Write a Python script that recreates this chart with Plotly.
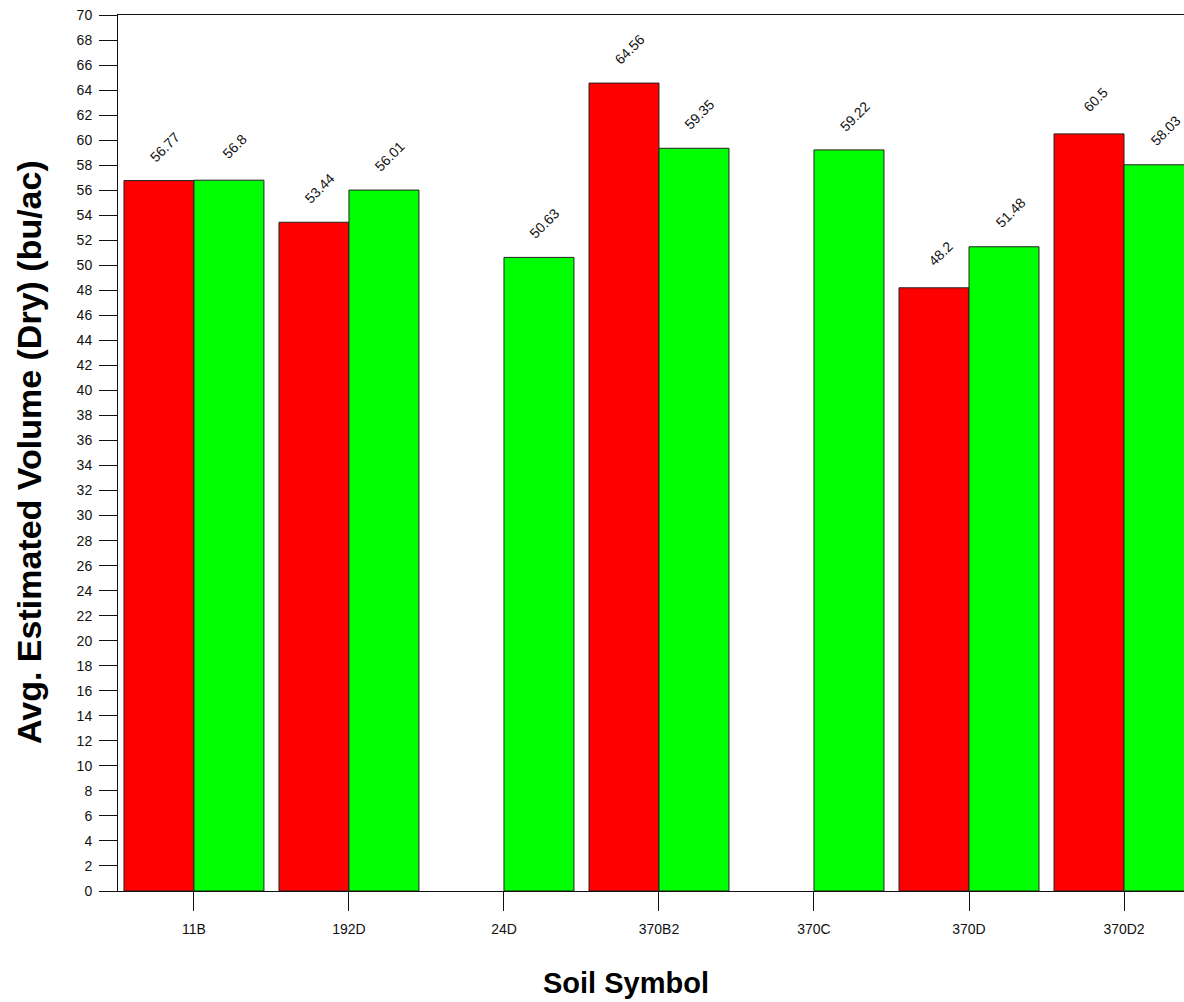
import plotly.graph_objects as go

categories = ["11B", "192D", "24D", "370B2", "370C", "370D", "370D2"]
red_values = [56.77, 53.44, None, 64.56, None, 48.2, 60.5]
green_values = [56.8, 56.01, 50.63, 59.35, 59.22, 51.48, 58.03]
red_labels = ["56.77", "53.44", None, "64.56", None, "48.2", "60.5"]
green_labels = ["56.8", "56.01", "50.63", "59.35", "59.22", "51.48", "58.03"]
y_ticks = list(range(0, 72, 2))

FONT = "Liberation Sans, Arial, sans-serif"

# plot area in page pixels
PL, PR, PT, PB = 118, 1184, 15, 891
W, H = 1184, 1002

fig = go.Figure()
fig.add_trace(go.Bar(x=categories, y=red_values, marker=dict(color="#FF0000", line=dict(color="#222222", width=1)),
                     showlegend=False))
fig.add_trace(go.Bar(x=categories, y=green_values, marker=dict(color="#00FF00", line=dict(color="#222222", width=1)),
                     showlegend=False))

annotations = []
for cat, v, lab in zip(categories, red_values, red_labels):
    if v is None:
        continue
    annotations.append(dict(x=cat, y=v, text=lab, showarrow=False, textangle=-45, xanchor="center", yanchor="middle",
                            xshift=-35 + 6, yshift=34, font=dict(family=FONT, size=14, color="#111111")))
for cat, v, lab in zip(categories, green_values, green_labels):
    if v is None:
        continue
    annotations.append(dict(x=cat, y=v, text=lab, showarrow=False, textangle=-45, xanchor="center", yanchor="middle",
                            xshift=35 + 6, yshift=34, font=dict(family=FONT, size=14, color="#111111")))

annotations.append(dict(x=(626 - PL) / (PR - PL), y=-(983 - PB) / (PB - PT), xref="paper", yref="paper",
                        xanchor="center", yanchor="middle",
                        text="<b>Soil Symbol</b>", showarrow=False,
                        font=dict(family=FONT, size=29, color="#000000")))
annotations.append(dict(x=(29 - PL) / (PR - PL), y=(PB - 452) / (PB - PT), xref="paper", yref="paper",
                        xanchor="center", yanchor="middle", textangle=-90,
                        text="<b>Avg. Estimated Volume (Dry) (bu/ac)</b>", showarrow=False,
                        font=dict(family=FONT, size=34, color="#000000")))

fig.update_layout(
    width=W, height=H,
    margin=dict(l=PL, r=W - PR, t=PT, b=H - PB, autoexpand=False),
    plot_bgcolor="white", paper_bgcolor="white",
    barmode="group", bargap=0.097, bargroupgap=0,
    font=dict(family=FONT, size=14, color="#111111"),
    annotations=annotations,
)

fig.update_xaxes(
    type="category", range=[-0.49, 6.387],
    showline=True, linecolor="#111111", linewidth=1, mirror=True,
    ticks="outside", ticklen=19, tickcolor="#111111", tickwidth=1,
    showgrid=False, ticklabelstandoff=6,
    tickfont=dict(family=FONT, size=14, color="#111111"),
)
fig.update_yaxes(
    range=[0, 70], tickvals=y_ticks, ticktext=[str(t) for t in y_ticks],
    showline=True, linecolor="#111111", linewidth=1,
    ticks="outside", ticklen=18, tickcolor="#111111", tickwidth=1,
    showgrid=False, zeroline=False, ticklabelstandoff=4, ticklabeloverflow="allow",
    tickfont=dict(family=FONT, size=14, color="#111111"),
)

fig.write_html("out.html", config={"displayModeBar": False},
               post_script="document.body.style.margin='0px';document.body.style.overflow='hidden';")
